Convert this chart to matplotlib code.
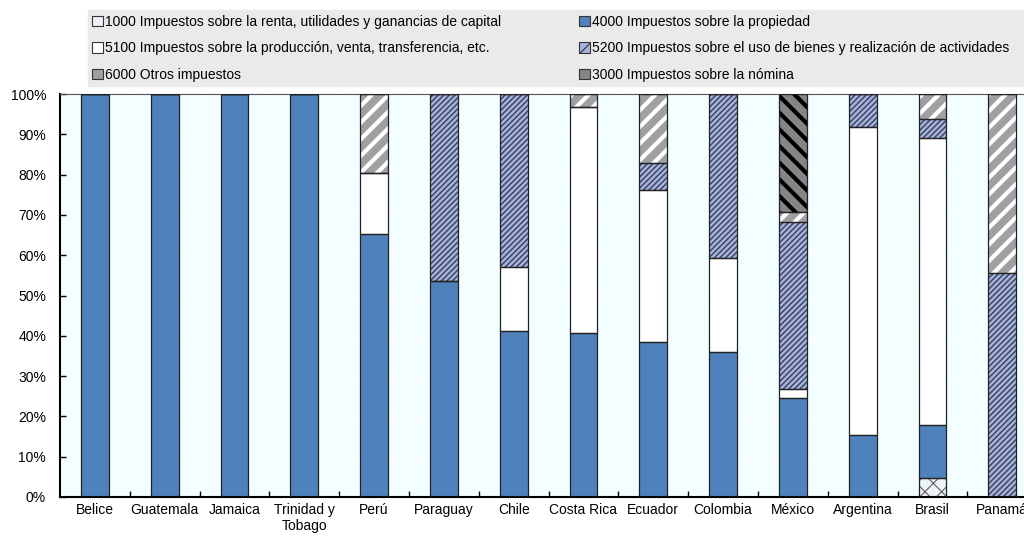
import matplotlib.pyplot as plt
import matplotlib.patches as mpatches
import numpy as np

plt.rcParams['font.family'] = ['Liberation Sans Narrow', 'Liberation Sans', 'DejaVu Sans']
plt.rcParams['font.size'] = 10

countries = ["Belice", "Guatemala", "Jamaica", "Trinidad y\nTobago", "Perú", "Paraguay",
             "Chile", "Costa Rica", "Ecuador", "Colombia", "México", "Argentina",
             "Brasil", "Panamá"]

# shares in % (stack order bottom -> top)
s1000 = [0, 0, 0, 0, 0, 0, 0, 0, 0, 0, 0, 0, 4.6, 0]
s4000 = [100, 100, 100, 100, 65.2, 53.6, 41.3, 40.7, 38.5, 36.1, 24.6, 15.3, 13.3, 0]
s5100 = [0, 0, 0, 0, 15.3, 0, 15.7, 56.0, 37.6, 23.1, 2.1, 76.4, 71.3, 0]
s5200 = [0, 0, 0, 0, 0, 46.4, 43.0, 0, 6.7, 40.8, 41.5, 8.3, 4.6, 55.7]
s6000 = [0, 0, 0, 0, 19.5, 0, 0, 3.3, 17.2, 0, 2.6, 0, 6.2, 44.3]
s3000 = [0, 0, 0, 0, 0, 0, 0, 0, 0, 0, 29.2, 0, 0, 0]

# name, values, face, hatch, hatch colour, hatch width, legend hatch
series = [
    ("1000 Impuestos sobre la renta, utilidades y ganancias de capital", s1000, "#EDF1F8", "xx", "#606060", 0.8, "x"),
    ("4000 Impuestos sobre la propiedad", s4000, "#4F81BD", None, None, 1, None),
    ("5100 Impuestos sobre la producción, venta, transferencia, etc.", s5100, "#FFFFFF", None, None, 1, None),
    ("5200 Impuestos sobre el uso de bienes y realización de actividades", s5200, "#A3B2DE", "//////", "#3A3F55", 1.0, "/"),
    ("6000 Otros impuestos", s6000, "#A0A0A0", "//", "#FFFFFF", 3.0, None),
    ("3000 Impuestos sobre la nómina", s3000, "#858585", "\\\\", "#000000", 3.0, "\\"),
]

x = np.arange(len(countries))
w = 0.4

fig = plt.figure(figsize=(10.24, 5.36), dpi=100)
ax = fig.add_axes([60 / 1024, 39 / 536, 14 * 69.8 / 1024, 403 / 536])
ax.set_facecolor("#F2FEFF")

handles = {}
bottom = np.zeros(len(x))
for name, vals, face, hatch, hcol, hlw, lhatch in series:
    vals = np.array(vals, dtype=float)
    if hatch:
        plt.rcParams['hatch.linewidth'] = hlw
        ax.bar(x, vals, w, bottom=bottom, color=face, edgecolor=hcol, hatch=hatch,
               linewidth=0, zorder=2)
    else:
        ax.bar(x, vals, w, bottom=bottom, color=face, linewidth=0, zorder=2)
    ax.bar(x, vals, w, bottom=bottom, fill=False, edgecolor="#222222", linewidth=0.9, zorder=3)
    plt.rcParams['hatch.linewidth'] = 0.8
    handles[name] = mpatches.Patch(facecolor=face, edgecolor="#333333",
                                   hatch=lhatch, linewidth=0.8)
    bottom += vals

ax.set_xlim(-0.5, len(x) - 0.5)
ax.set_ylim(0, 100)
ax.set_yticks(np.arange(0, 101, 10))
ax.set_yticklabels([f"{v}%" for v in range(0, 101, 10)])
ax.set_xticks(x)
ax.set_xticklabels(countries)
ax.set_xticks(np.arange(0.5, len(x) - 0.5, 1), minor=True)
ax.tick_params(axis="x", which="major", length=0, pad=4)
ax.tick_params(axis="x", which="minor", direction="in", length=4, width=1)
ax.tick_params(axis="y", direction="in", length=4, width=1, pad=10)
ax.grid(axis="y", color="white", linewidth=1, zorder=1)
ax.grid(axis="x", which="minor", color="white", linewidth=1, zorder=1)
ax.set_axisbelow(True)
for s in ["left", "bottom"]:
    ax.spines[s].set_linewidth(1.5)
    ax.spines[s].set_color("black")
ax.spines["top"].set_color("#555555")
ax.spines["top"].set_linewidth(0.8)
ax.spines["right"].set_visible(False)

# legend background
fig.patches.append(mpatches.Rectangle((88 / 1024, 1 - 86 / 536), 1, 76 / 536,
                                      transform=fig.transFigure, color="#EAEAEA", zorder=0))
names = [s[0] for s in series]
left_names = [names[0], names[2], names[4]]
right_names = [names[1], names[3], names[5]]
for nm, xpos in [(left_names, 81 / 1024), (right_names, 568 / 1024)]:
    leg = fig.legend([handles[n] for n in nm], nm, loc="upper left",
                     bbox_to_anchor=(xpos, 1 - 4 / 536), frameon=False,
                     handlelength=0.75, handleheight=0.75, handletextpad=0.2,
                     labelspacing=0.88, borderpad=0.3, fontsize=10)

fig.savefig("out.png", dpi=100)
